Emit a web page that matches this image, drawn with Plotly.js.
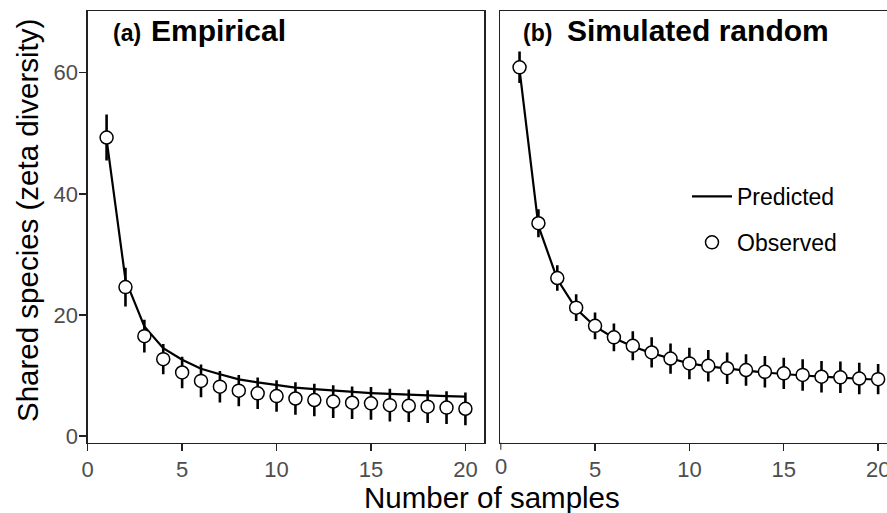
<!DOCTYPE html>
<html>
<head>
<meta charset="utf-8">
<script src="https://cdn.plot.ly/plotly-3.0.1.min.js"></script>
<style>html,body{margin:0;padding:0;background:#fff;}#chart{width:887px;height:513px;}</style>
</head>
<body>
<div id="chart"></div>
<script>
// Number of samples (zeta order)
var samples = [1,2,3,4,5,6,7,8,9,10,11,12,13,14,15,16,17,18,19,20];

// Panel (a) Empirical
var obsA  = [49.3, 24.6, 16.5, 12.7, 10.5, 9.1, 8.15, 7.5, 7.05, 6.6, 6.2, 5.95, 5.7, 5.5, 5.4, 5.1, 5.0, 4.85, 4.7, 4.5];
var errA  = [3.8, 3.2, 2.7, 2.5, 2.6, 2.7, 2.6, 2.6, 2.6, 2.6, 2.7, 2.7, 2.7, 2.7, 2.7, 2.7, 2.7, 2.7, 2.7, 2.7];
var predA = [49.0, 25.8, 18.1, 14.5, 12.6, 11.1, 10.2, 9.35, 8.85, 8.4, 8.0, 7.75, 7.5, 7.3, 7.1, 6.95, 6.8, 6.7, 6.6, 6.5];

// Panel (b) Simulated random
var obsB  = [60.9, 35.15, 26.1, 21.2, 18.2, 16.3, 14.9, 13.8, 12.8, 12.0, 11.6, 11.2, 10.9, 10.6, 10.35, 10.1, 9.8, 9.7, 9.5, 9.4];
var errB  = [2.6, 2.3, 2.1, 2.2, 2.2, 2.3, 2.4, 2.5, 2.5, 2.6, 2.6, 2.6, 2.6, 2.6, 2.6, 2.6, 2.6, 2.6, 2.6, 2.5];
var predB = [60.5, 34.7, 25.9, 21.0, 18.1, 16.2, 14.8, 13.7, 12.8, 12.0, 11.5, 11.1, 10.8, 10.5, 10.2, 10.0, 9.8, 9.6, 9.4, 9.3];

var xTicks = [0, 5, 10, 15, 20];
var yTicks = [0, 20, 40, 60];

var FONT = 'Liberation Sans, Arial, Helvetica, sans-serif';
var W = 887, H = 513;
function px(x){ return x / W; }
function py(y){ return 1 - y / H; }

function lineTrace(y, xa, ya, show){
  return {x: samples, y: y, xaxis: xa, yaxis: ya, type: 'scatter', mode: 'lines',
    name: 'Predicted', legendgroup: 'pred', showlegend: show,
    line: {color: '#000', width: 2.2}, hoverinfo: 'skip'};
}
function obsTrace(y, err, xa, ya, show){
  return {x: samples, y: y, xaxis: xa, yaxis: ya, type: 'scatter', mode: 'markers',
    name: 'Observed', legendgroup: 'obs', showlegend: show,
    error_y: {type: 'data', array: err, visible: true, color: '#000', thickness: 2.6, width: 0},
    marker: {symbol: 'circle', size: 13, color: '#fff', line: {color: '#000', width: 1.5}},
    hoverinfo: 'skip'};
}

var data = [
  lineTrace(predA, 'x', 'y', true),
  obsTrace(obsA, errA, 'x', 'y', true),
  lineTrace(predB, 'x2', 'y2', false),
  obsTrace(obsB, errB, 'x2', 'y2', false)
];

var yDom = [py(442.7), py(11)];
var axCommon = {
  showgrid: false, zeroline: false, showline: true, linecolor: '#222', linewidth: 1.3,
  ticks: 'outside', ticklen: 7, tickwidth: 1.3, tickcolor: '#222',
  tickfont: {family: FONT, size: 22, color: '#4d4d4d'}, automargin: false, fixedrange: true,
  ticklabeloverflow: 'allow'
};

var TICK_LABEL_Y = py(466.7);

var layout = {
  width: W, height: H,
  margin: {l: 0, r: 0, t: 0, b: 0},
  paper_bgcolor: '#fff', plot_bgcolor: '#fff',
  font: {family: FONT, color: '#000'},
  xaxis: Object.assign({}, axCommon, {domain: [px(87.7), px(484.3)], range: [0, 21], tickvals: xTicks, mirror: true, anchor: 'y'}),
  yaxis: Object.assign({}, axCommon, {domain: yDom, range: [-1.1, 70.2], tickvals: yTicks, mirror: true, anchor: 'x', ticklabelstandoff: -3}),
  // the first tick of panel (b) sits on the panel corner, where Plotly drops it; it is drawn below instead
  xaxis2: Object.assign({}, axCommon, {domain: [px(500.3), 1], range: [-0.02, 20.47], tickvals: xTicks.slice(1), mirror: true, anchor: 'y2'}),
  yaxis2: Object.assign({}, axCommon, {domain: yDom, range: [-1.1, 70.2], tickvals: yTicks, showticklabels: false, ticks: '', mirror: false, anchor: 'x2'}),
  showlegend: true,
  legend: {
    x: px(687), y: py(175), xanchor: 'left', yanchor: 'top',
    bgcolor: 'rgba(0,0,0,0)', borderwidth: 0,
    font: {family: FONT, size: 23, color: '#000'},
    itemwidth: 40, tracegroupgap: 13, traceorder: 'grouped'
  },
  shapes: [
    {type: 'line', xref: 'x2', yref: 'paper', x0: xTicks[0], x1: xTicks[0], y0: py(442.7), y1: py(449.7),
     line: {color: '#222', width: 1.3}}
  ],
  annotations: [
    {xref: 'x2', yref: 'paper', x: xTicks[0], y: TICK_LABEL_Y, xanchor: 'center', yanchor: 'middle', showarrow: false,
     text: String(xTicks[0]), font: {family: FONT, size: 22, color: '#4d4d4d'}},
    {xref: 'paper', yref: 'paper', x: px(110.5), y: py(32.7), xanchor: 'left', yanchor: 'middle', showarrow: false,
     text: '<b>(a)</b>', font: {family: FONT, size: 23, color: '#000'}},
    {xref: 'paper', yref: 'paper', x: px(149), y: py(30.5), xanchor: 'left', yanchor: 'middle', showarrow: false,
     text: '<b>Empirical</b>', font: {family: FONT, size: 30, color: '#000'}},
    {xref: 'paper', yref: 'paper', x: px(520.5), y: py(32.7), xanchor: 'left', yanchor: 'middle', showarrow: false,
     text: '<b>(b)</b>', font: {family: FONT, size: 23, color: '#000'}},
    {xref: 'paper', yref: 'paper', x: px(564.5), y: py(30.5), xanchor: 'left', yanchor: 'middle', showarrow: false,
     text: '<b>Simulated random</b>', font: {family: FONT, size: 30, color: '#000'}},
    {xref: 'paper', yref: 'paper', x: px(491.5), y: py(497), xanchor: 'center', yanchor: 'middle', showarrow: false,
     text: 'Number of samples', font: {family: FONT, size: 29.5, color: '#000'}},
    {xref: 'paper', yref: 'paper', x: px(27), y: py(221), xanchor: 'center', yanchor: 'middle', showarrow: false, textangle: -90,
     text: 'Shared species (zeta diversity)', font: {family: FONT, size: 29.5, color: '#000'}}
  ]
};

Plotly.newPlot('chart', data, layout, {staticPlot: true, displayModeBar: false});
</script>
</body>
</html>
